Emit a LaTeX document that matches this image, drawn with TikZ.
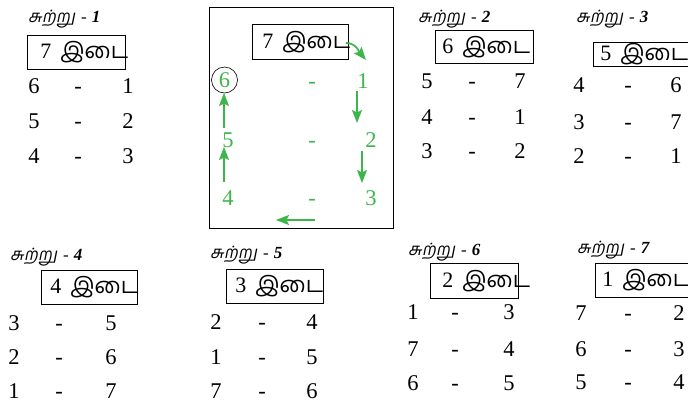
\documentclass[tikz,border=0pt]{standalone}
\usepackage{fontspec}
\setmainfont{Liberation Serif}
\newfontfamily\tam[Script=Tamil]{Hind Madurai}
\newfontfamily\tamsl[Script=Tamil,FakeSlant=0.2]{Hind Madurai}
\usetikzlibrary{arrows.meta}
\definecolor{grn}{RGB}{60,182,74}
\tikzset{
  num/.style={font=\fontsize{22.5}{22.5}\selectfont, inner sep=0pt, anchor=base},
  gnum/.style={num, text=grn},
  bye/.style={draw, line width=0.8pt, anchor=north west, inner ysep=0pt,
              font=\fontsize{22}{22}\selectfont},
  ttl/.style={anchor=base west, inner sep=0pt, font=\fontsize{17}{17}\selectfont},
  garr/.style={draw=grn, line width=1.7pt, -{Stealth[length=13pt,width=10pt,inset=2.5pt]}},
  outer/.style={draw, line width=1.4pt, inner sep=0pt, anchor=north west},
}
\newcommand{\idai}[2]{\makebox[#1][l]{#2\hspace{9pt}{\tam இடை}}}
\newcommand{\ttltext}[1]{{\tamsl சுற்று}\hspace{6pt}{\itshape -\hspace{5pt}\bfseries #1}}
\begin{document}
\begin{tikzpicture}[x=1pt,y=-1pt]
\useasboundingbox (0,0) rectangle (688,402);

% ---------- Round 1 ----------
\node[ttl] (t1) at (28,22) {\ttltext{1}};
\node[bye, inner xsep=13pt, minimum height=34pt] (b1) at (27,35) {\idai{72pt}{7}};
\node[num] (r1a1) at (34,93) {6};  \node[num] (r1d1) at (78,93) {-};  \node[num] (r1b1) at (128,93) {1};
\node[num] (r1a2) at (34,128) {5}; \node[num] (r1d2) at (78,128) {-}; \node[num] (r1b2) at (128,128) {2};
\node[num] (r1a3) at (34,163) {4}; \node[num] (r1d3) at (78,163) {-}; \node[num] (r1b3) at (128,163) {3};

% ---------- Central explanation ----------
\node[outer, minimum width=184pt, minimum height=221pt] (frame) at (209,7) {};
\node[bye, inner xsep=10pt, minimum height=35pt] (b0) at (252,24) {\idai{76pt}{7}};
\node[gnum, draw=black, line width=0.6pt, circle, minimum size=26pt, anchor=center] (c6) at (224.5,80) {6};
\node[gnum] (cd1) at (312,88) {-};
\node[gnum] (c1) at (363,88) {1};
\node[gnum] (c5) at (228,147) {5};
\node[gnum] (cd2) at (312,147) {-};
\node[gnum] (c2) at (371,147) {2};
\node[gnum] (c4) at (228,205) {4};
\node[gnum] (cd3) at (312,205) {-};
\node[gnum] (c3) at (371,205) {3};
\coordinate (a0e) at (366,60);
\coordinate (a1s) at (357,91);  \coordinate (a1e) at (357,123);
\coordinate (a2s) at (362,151); \coordinate (a2e) at (362,183);
\coordinate (a3s) at (315,220); \coordinate (a3e) at (276,220);
\coordinate (a4s) at (224,182); \coordinate (a4e) at (224,147);
\coordinate (a5s) at (224,128); \coordinate (a5e) at (224,93);
\draw[garr] ([xshift=-3pt,yshift=-1pt]b0.east) to[out=0,in=130] (a0e);
\draw[garr] (a1s) -- (a1e);
\draw[garr] (a2s) -- (a2e);
\draw[garr] (a3s) -- (a3e);
\draw[garr] (a4s) -- (a4e);
\draw[garr] (a5s) -- (a5e);

% ---------- Round 2 ----------
\node[ttl] (t2) at (418,22) {\ttltext{2}};
\node[bye, inner xsep=7pt, minimum height=33pt] (b2) at (435,30) {\idai{84pt}{6}};
\node[num] (r2a1) at (427,88) {5};  \node[num] (r2d1) at (472,88) {-};  \node[num] (r2b1) at (520,88) {7};
\node[num] (r2a2) at (427,124) {4}; \node[num] (r2d2) at (472,124) {-}; \node[num] (r2b2) at (520,124) {1};
\node[num] (r2a3) at (427,158) {3}; \node[num] (r2d3) at (472,158) {-}; \node[num] (r2b3) at (520,158) {2};

% ---------- Round 3 ----------
\node[ttl] (t3) at (576,22) {\ttltext{3}};
\node[bye, inner xsep=7pt, minimum height=24pt] (b3) at (593,42) {\idai{93pt}{5}};
\node[num] (r3a1) at (579,92) {4};  \node[num] (r3d1) at (628,92) {-};  \node[num] (r3b1) at (676,92) {6};
\node[num] (r3a2) at (579,129) {3}; \node[num] (r3d2) at (628,129) {-}; \node[num] (r3b2) at (676,129) {7};
\node[num] (r3a3) at (579,163) {2}; \node[num] (r3d3) at (628,163) {-}; \node[num] (r3b3) at (676,163) {1};

% ---------- Round 4 ----------
\node[ttl] (t4) at (10,260) {\ttltext{4}};
\node[bye, inner xsep=9pt, minimum height=34pt] (b4) at (41,270) {\idai{78pt}{4}};
\node[num] (r4a1) at (14,330) {3}; \node[num] (r4d1) at (59,330) {-}; \node[num] (r4b1) at (111,330) {5};
\node[num] (r4a2) at (14,364) {2}; \node[num] (r4d2) at (59,364) {-}; \node[num] (r4b2) at (111,364) {6};
\node[num] (r4a3) at (14,398) {1}; \node[num] (r4d3) at (59,398) {-}; \node[num] (r4b3) at (111,398) {7};

% ---------- Round 5 ----------
\node[ttl] (t5) at (210,258) {\ttltext{5}};
\node[bye, inner xsep=9pt, minimum height=34pt] (b5) at (226,269) {\idai{79pt}{3}};
\node[num] (r5a1) at (216,329) {2}; \node[num] (r5d1) at (262,329) {-}; \node[num] (r5b1) at (312,329) {4};
\node[num] (r5a2) at (216,364) {1}; \node[num] (r5d2) at (262,364) {-}; \node[num] (r5b2) at (312,364) {5};
\node[num] (r5a3) at (216,398) {7}; \node[num] (r5d3) at (262,398) {-}; \node[num] (r5b3) at (312,398) {6};

% ---------- Round 6 ----------
\node[ttl] (t6) at (408,255) {\ttltext{6}};
\node[bye, inner xsep=12pt, minimum height=35pt] (b6) at (430,263) {\idai{64pt}{2}};
\node[num] (r6a1) at (413,319) {1}; \node[num] (r6d1) at (455,319) {-}; \node[num] (r6b1) at (509,319) {3};
\node[num] (r6a2) at (413,356) {7}; \node[num] (r6d2) at (455,356) {-}; \node[num] (r6b2) at (509,356) {4};
\node[num] (r6a3) at (413,390) {6}; \node[num] (r6d3) at (455,390) {-}; \node[num] (r6b3) at (509,390) {5};

% ---------- Round 7 ----------
\node[ttl] (t7) at (577,253) {\ttltext{7}};
\node[bye, inner xsep=7pt, minimum height=34pt] (b7) at (595,263) {\idai{91pt}{1}};
\node[num] (r7a1) at (581,320) {7}; \node[num] (r7d1) at (628,320) {-}; \node[num] (r7b1) at (679,320) {2};
\node[num] (r7a2) at (581,356) {6}; \node[num] (r7d2) at (628,356) {-}; \node[num] (r7b2) at (679,356) {3};
\node[num] (r7a3) at (581,389) {5}; \node[num] (r7d3) at (628,389) {-}; \node[num] (r7b3) at (679,389) {4};
\end{tikzpicture}
\end{document}
